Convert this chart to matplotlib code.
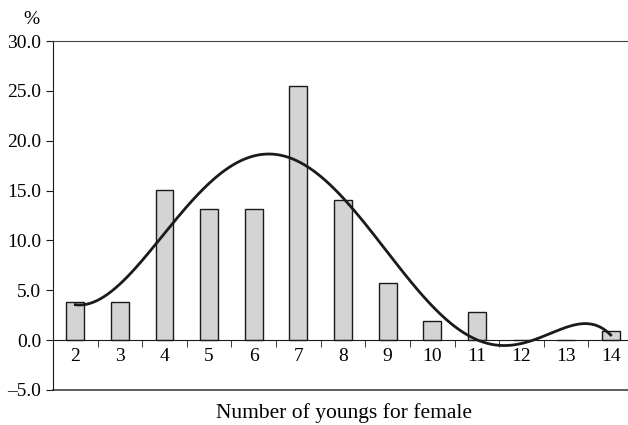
import numpy as np
import matplotlib
matplotlib.use("Agg")
import matplotlib.pyplot as plt
from matplotlib.ticker import FixedLocator

categories = ["2", "3", "4", "5", "6", "7", "8", "9", "10", "11", "12", "13", "14"]
values = [3.8, 3.8, 15.1, 13.2, 13.2, 25.5, 14.1, 5.7, 1.9, 2.8, 0.0, 0.0, 0.9]
y_ticks = [-5.0, 0.0, 5.0, 10.0, 15.0, 20.0, 25.0, 30.0]

plt.rcParams['font.family'] = ['Liberation Serif', 'DejaVu Serif']

fig = plt.figure(figsize=(6.28, 4.25), dpi=100)
ax = fig.add_axes([53/628, 35/425, 580/628, 349/425])

x = np.arange(len(categories))
ax.bar(x, values, width=0.4, color="#d4d4d4", edgecolor="#1a1a1a", linewidth=1.0, zorder=2)

# polynomial trendline (order 6) fitted to the bar data
coef = np.polyfit(x, values, 6)
xs = np.linspace(x[0], x[-1], 400)
ax.plot(xs, np.polyval(coef, xs), color="#1a1a1a", lw=2.0, zorder=3)

ax.set_xlim(-0.5, len(categories) - 0.5)
ax.set_ylim(-5, 30)

ax.spines['right'].set_visible(False)
ax.spines['top'].set_color("#444444")
ax.spines['bottom'].set_position(('data', 0))
ax.spines['bottom'].set_color("#1a1a1a")
ax.spines['bottom'].set_zorder(4)
ax.spines['left'].set_color("#1a1a1a")
ax.axhline(-5, color="#444444", lw=1.2, clip_on=False)

ax.set_xticks(x)
ax.set_xticklabels(categories, fontsize=14)
ax.xaxis.set_minor_locator(FixedLocator(np.arange(-0.5, len(categories), 1.0)))
ax.tick_params(axis='x', which='major', length=0, pad=6)
ax.tick_params(axis='x', which='minor', length=5, direction='out', color="#1a1a1a")

ax.set_yticks(y_ticks)
ax.set_yticklabels([f"{v:.1f}".replace("-", "\u2013") for v in y_ticks], fontsize=14)
ax.tick_params(axis='y', length=5, direction='out', pad=3.5, color="#1a1a1a")

fig.text(31/628, 1 - 20/425, "%", fontsize=14, ha='center', va='center')
fig.text(344/628, 1 - 413/425, "Number of youngs for female", fontsize=15.5, ha='center', va='center')

fig.savefig("out.png", dpi=100)
